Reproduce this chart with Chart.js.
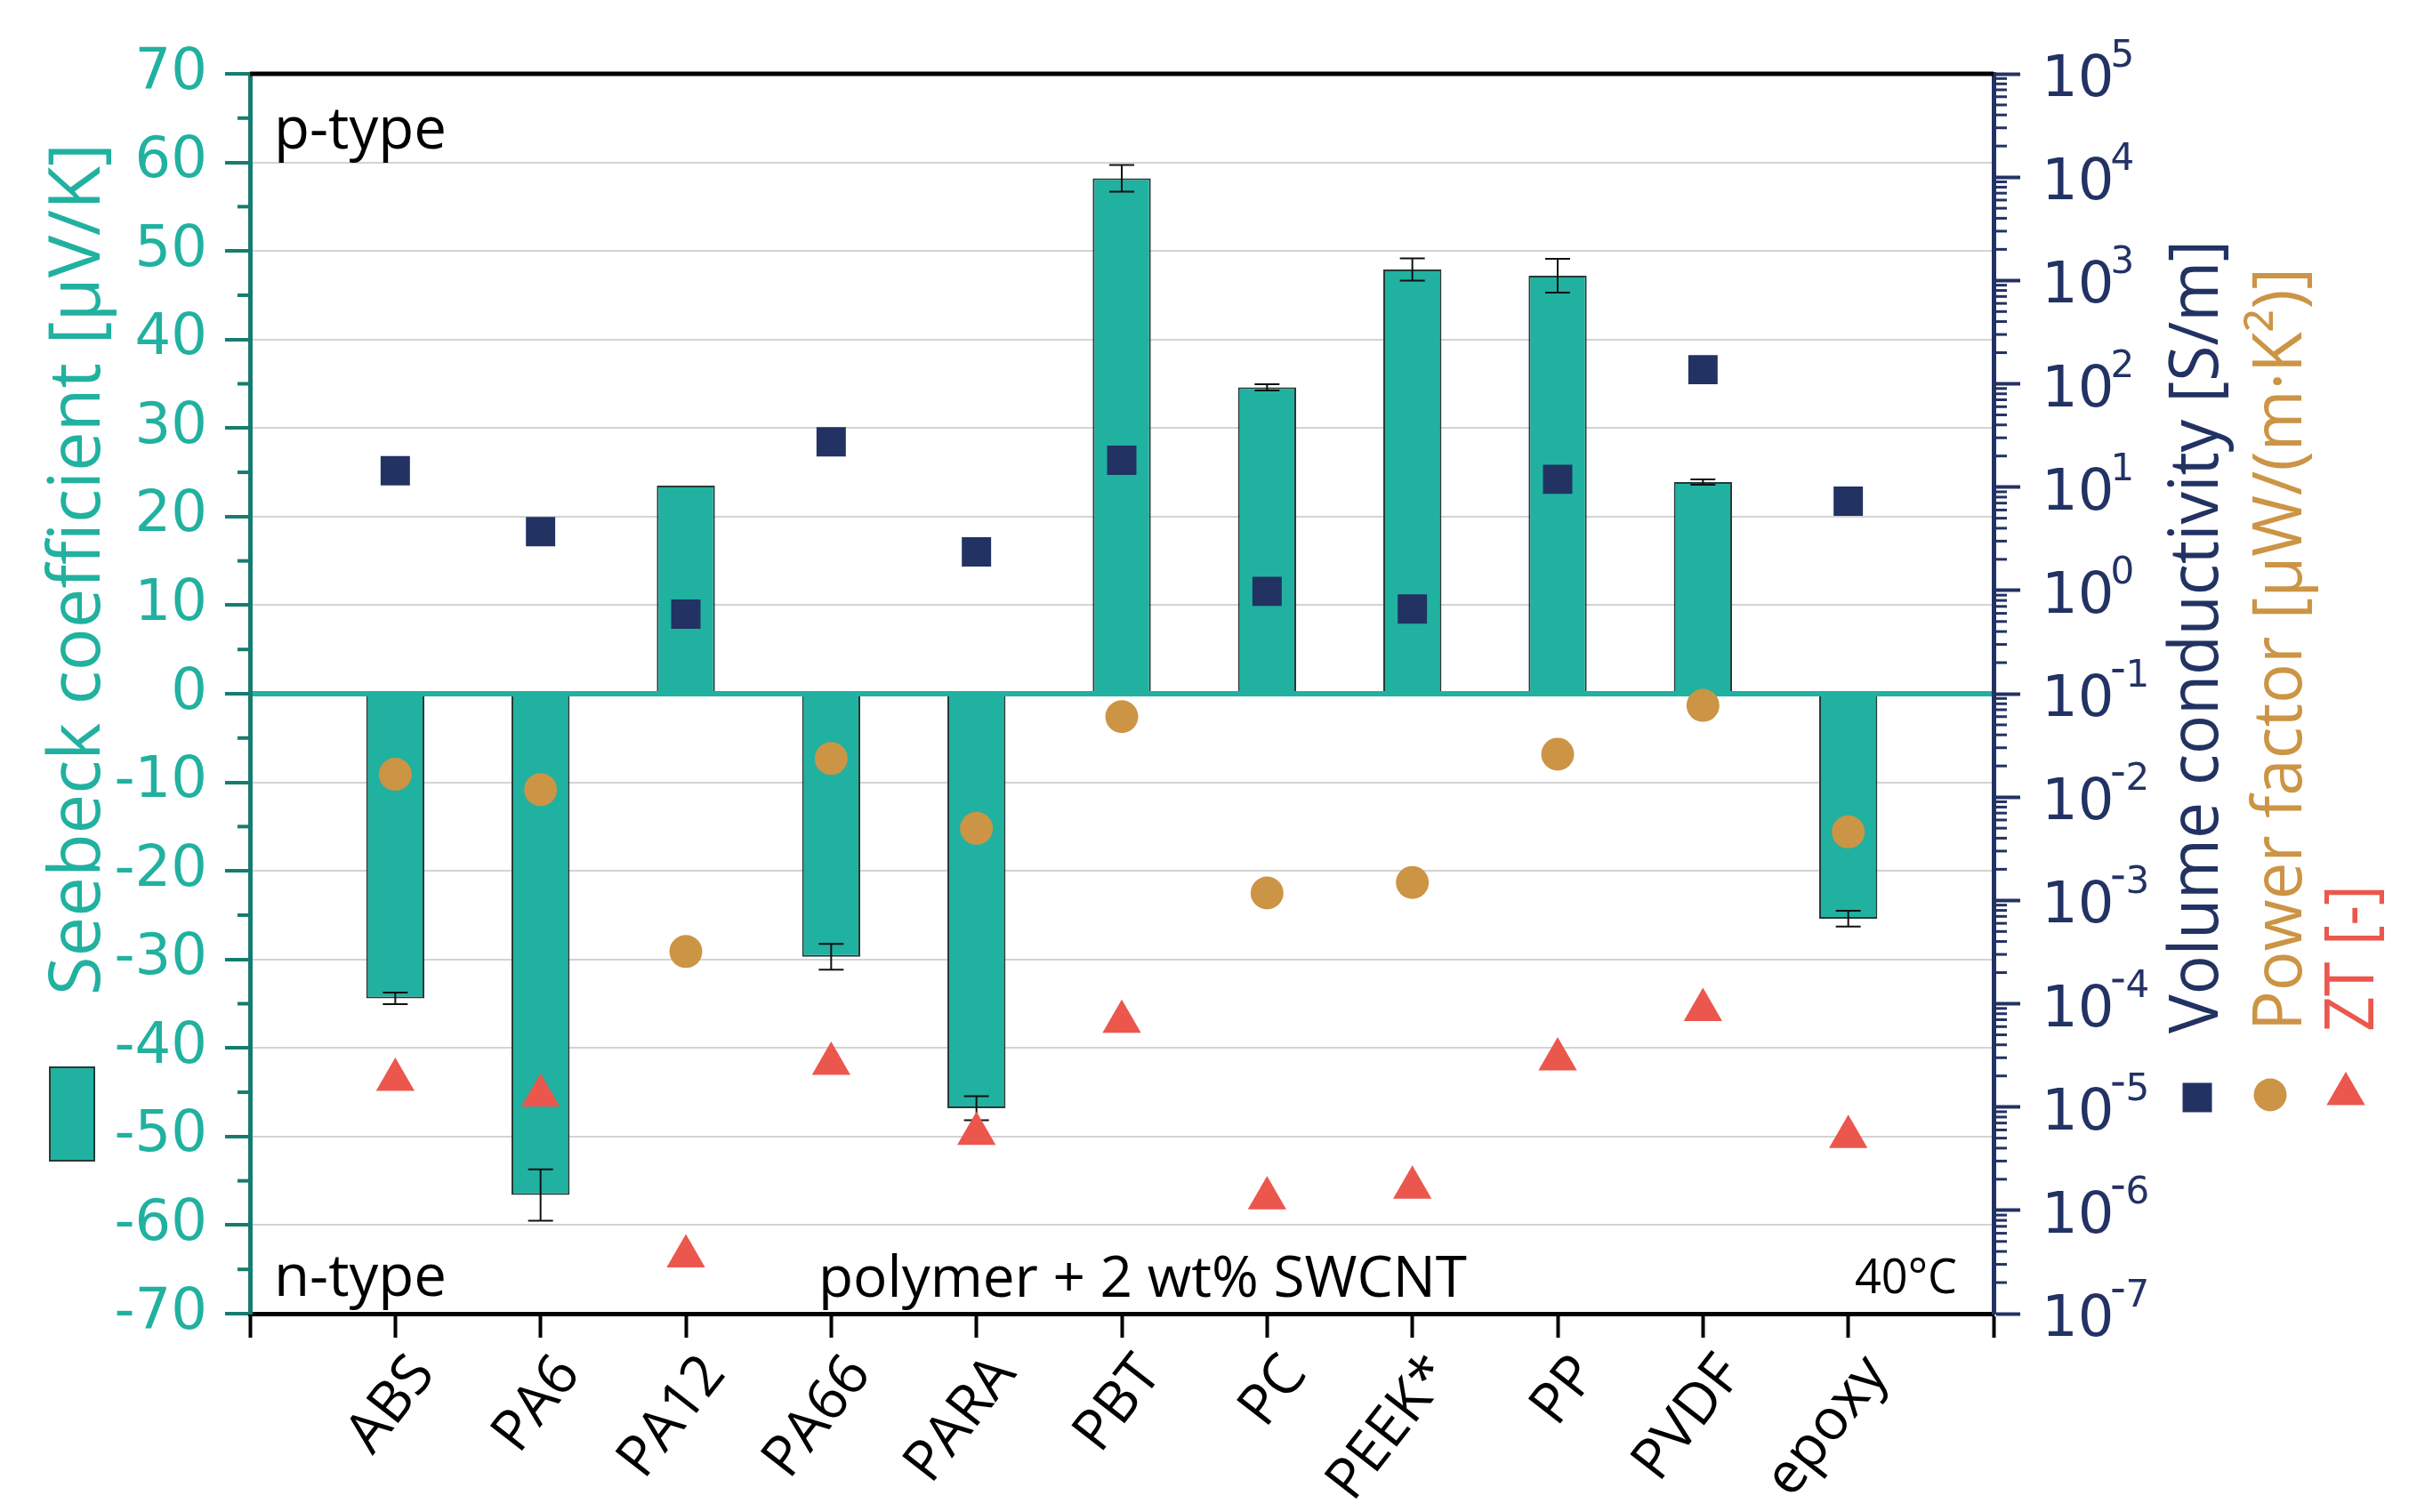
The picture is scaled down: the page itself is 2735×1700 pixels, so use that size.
<!DOCTYPE html>
<html>
<head>
<meta charset="utf-8">
<title>Seebeck coefficient, conductivity, power factor and ZT</title>
<script src="https://cdn.jsdelivr.net/npm/chart.js@4.4.1/dist/chart.umd.min.js"></script>
<style>
  html, body { margin: 0; padding: 0; background: #fff; }
  #wrap { width: 2735px; height: 1700px; }
</style>
</head>
<body>
<div id="wrap"><canvas id="seebeckChart" width="2735" height="1700"></canvas></div>
<script>
// data (polymer + 2 wt% SWCNT, 40 °C)
var categories = ['ABS', 'PA6', 'PA12', 'PA66', 'PARA', 'PBT', 'PC', 'PEEK*', 'PP', 'PVDF', 'epoxy'];
var seebeck = [-34.4, -56.6, 23.5, -29.7, -46.8, 58.2, 34.6, 47.9, 47.2, 23.9, -25.4];      // µV/K
var seebeckErr = [0.65, 2.9, 0, 1.45, 1.35, 1.5, 0.35, 1.25, 1.9, 0.3, 0.9];
var conductivity = [14.4, 3.7, 0.59, 27.4, 2.36, 18.2, 0.98, 0.66, 11.9, 137, 7.3];          // S/m
var powerFactor = [0.0166, 0.0118, 3.2e-4, 0.0236, 4.98e-3, 0.060, 1.18e-3, 1.49e-3, 0.026, 0.0772, 4.6e-3]; // µW/(m·K²)
var zt = [1.84e-5, 1.29e-5, 3.6e-7, 2.63e-5, 5.5e-6, 6.7e-5, 1.31e-6, 1.66e-6, 2.9e-5, 8.7e-5, 5.15e-6];

var seebeckTicks = [-70, -60, -50, -40, -30, -20, -10, 0, 10, 20, 30, 40, 50, 60, 70];
var seebeckMinorTicks = [-65, -55, -45, -35, -25, -15, -5, 5, 15, 25, 35, 45, 55, 65];
var decadeExps = [-7, -6, -5, -4, -3, -2, -1, 0, 1, 2, 3, 4, 5];

var TEAL = '#21b1a0';
var TEAL_DARK = '#167c6f';
var NAVY = '#223263';
var ORANGE = '#cc9445';
var RED = '#eb574d';

// empty slots at both ends so the categories sit at 1..11 of 12 intervals
var xLabels = [''].concat(categories, ['']);
function pad(arr) { return [null].concat(arr, [null]); }

function fitText(ctx, text, x, y, rot, font, color, len) {
    ctx.save();
    ctx.translate(x, y);
    ctx.rotate(rot);
    ctx.font = font;
    var w = ctx.measureText(text).width;
    ctx.scale(len / w, 1);
    ctx.fillStyle = color;
    ctx.textAlign = 'left';
    ctx.textBaseline = 'alphabetic';
    ctx.fillText(text, 0, 0);
    ctx.restore();
}

var extras = {
    id: 'extras',
    afterDatasetDraw: function (chart, args) {
        if (args.index !== 0) return;
        var ctx = chart.ctx;
        var y = chart.scales.y;
        var meta = chart.getDatasetMeta(0);
        ctx.save();
        ctx.strokeStyle = '#111';
        ctx.lineWidth = 2;
        seebeckErr.forEach(function (e, i) {
            if (!e) return;
            var bar = meta.data[i + 1];
            var x = bar.x;
            var y1 = y.getPixelForValue(seebeck[i] + e);
            var y2 = y.getPixelForValue(seebeck[i] - e);
            ctx.beginPath();
            ctx.moveTo(x, y1); ctx.lineTo(x, y2);
            ctx.moveTo(x - 14, y1); ctx.lineTo(x + 14, y1);
            ctx.moveTo(x - 14, y2); ctx.lineTo(x + 14, y2);
            ctx.stroke();
        });
        ctx.restore();
    },
    afterDraw: function (chart) {
        var ctx = chart.ctx;
        var a = chart.chartArea;
        var y = chart.scales.y;
        var y2 = chart.scales.y2;
        ctx.save();

        // top frame line
        ctx.fillStyle = '#000';
        ctx.fillRect(a.left, a.top - 2.5, a.right - a.left, 5);

        // minor ticks on the left axis
        ctx.fillStyle = TEAL_DARK;
        seebeckMinorTicks.forEach(function (v) {
            var py = y.getPixelForValue(v);
            ctx.fillRect(a.left - 14, py - 2, 14, 4);
        });

        // minor ticks on the log axis
        ctx.fillStyle = NAVY;
        decadeExps.slice(0, -1).forEach(function (e) {
            for (var m = 2; m <= 9; m++) {
                var py = y2.getPixelForValue(m * Number('1e' + e));
                ctx.fillRect(a.right, py - 1.5, 15, 3);
            }
        });

        // log axis labels as 10 with a raised exponent
        ctx.fillStyle = NAVY;
        ctx.textAlign = 'left';
        decadeExps.forEach(function (e) {
            var py = y2.getPixelForValue(Number('1e' + e));
            var x0 = a.right + 54;
            ctx.font = '64px "DejaVu Sans"';
            ctx.textBaseline = 'alphabetic';
            ctx.fillText('10', x0, py + 25);
            var w = ctx.measureText('10').width;
            ctx.font = '42px "DejaVu Sans"';
            var ex = x0 + w - 4;
            if (e < 0) {
                ctx.fillRect(ex + 2, py - 28, 13, 4);
                ex += 17;
            }
            ctx.fillText(String(Math.abs(e)), ex, py - 8);
        });

        // axis titles
        fitText(ctx, 'Seebeck coefficient [\u03BCV/K]', 112, 1119, -Math.PI / 2, '80px "Open Sans"', TEAL, 958);
        fitText(ctx, 'Volume conductivity [S/m]', 2493, 1162, -Math.PI / 2, '76px "Open Sans"', NAVY, 892);
        fitText(ctx, 'Power factor [\u03BCW/(m\u00B7K\u00B2)]', 2587, 1159, -Math.PI / 2, '76px "Open Sans"', ORANGE, 858);
        fitText(ctx, 'ZT [-]', 2668, 1160, -Math.PI / 2, '76px "Open Sans"', RED, 165);

        // annotations inside the plot
        fitText(ctx, 'p-type', 308, 167, 0, '66px "Open Sans"', '#000', 194);
        fitText(ctx, 'n-type', 308, 1457, 0, '66px "Open Sans"', '#000', 194);
        fitText(ctx, 'polymer + 2 wt% SWCNT', 920, 1458, 0, '64px "Open Sans"', '#000', 729);
        fitText(ctx, '40\u00B0C', 2085, 1454, 0, '54px "Open Sans"', '#000', 115);

        // legend symbols
        ctx.fillStyle = TEAL;
        ctx.fillRect(56, 1200, 50, 105);
        ctx.strokeStyle = '#263b38';
        ctx.lineWidth = 2;
        ctx.strokeRect(56, 1200, 50, 105);

        ctx.fillStyle = NAVY;
        ctx.fillRect(2470 - 16.5, 1234 - 16.5, 33, 33);

        ctx.fillStyle = ORANGE;
        ctx.beginPath();
        ctx.arc(2552, 1231, 18.5, 0, Math.PI * 2);
        ctx.fill();

        ctx.fillStyle = RED;
        ctx.beginPath();
        ctx.moveTo(2637, 1205);
        ctx.lineTo(2637 + 21.7, 1242.5);
        ctx.lineTo(2637 - 21.7, 1242.5);
        ctx.closePath();
        ctx.fill();

        ctx.restore();
    }
};

var ctx = document.getElementById('seebeckChart').getContext('2d');
var chart = new Chart(ctx, {
    type: 'bar',
    data: {
        labels: xLabels,
        datasets: [{
            label: 'Seebeck coefficient',
            data: pad(seebeck),
            backgroundColor: TEAL,
            borderColor: '#263b38',
            borderWidth: 2,
            barPercentage: 0.4,
            categoryPercentage: 1,
            yAxisID: 'y',
            order: 4
        }, {
            type: 'line',
            label: 'Volume conductivity',
            data: pad(conductivity),
            showLine: false,
            pointStyle: 'rect',
            pointRadius: 23.3,
            pointBorderWidth: 0,
            backgroundColor: NAVY,
            borderColor: NAVY,
            yAxisID: 'y2',
            order: 3
        }, {
            type: 'line',
            label: 'Power factor',
            data: pad(powerFactor),
            showLine: false,
            pointStyle: 'circle',
            pointRadius: 18.5,
            pointBorderWidth: 0,
            backgroundColor: ORANGE,
            borderColor: ORANGE,
            yAxisID: 'y2',
            order: 2
        }, {
            type: 'line',
            label: 'ZT',
            data: pad(zt),
            showLine: false,
            pointStyle: 'triangle',
            pointRadius: 25,
            pointBorderWidth: 0,
            backgroundColor: RED,
            borderColor: RED,
            yAxisID: 'y2',
            order: 1
        }]
    },
    options: {
        responsive: false,
        animation: false,
        devicePixelRatio: 1,
        layout: { padding: { top: 83, left: 0, right: 0, bottom: 0 } },
        plugins: {
            legend: { display: false },
            tooltip: { enabled: false }
        },
        scales: {
            x: {
                grid: {
                    display: true,
                    drawOnChartArea: false,
                    drawTicks: true,
                    tickLength: 27,
                    tickWidth: 4,
                    tickColor: '#000',
                    offset: false
                },
                offset: false,
                border: { color: '#000', width: 5 },
                ticks: {
                    autoSkip: false,
                    minRotation: 52,
                    maxRotation: 52,
                    padding: 6,
                    labelOffset: 32,
                    color: '#000',
                    font: { family: 'Open Sans', size: 64 }
                },
                afterFit: function (scale) { scale.height = 223; }
            },
            y: {
                position: 'left',
                min: -70,
                max: 70,
                afterBuildTicks: function (scale) {
                    scale.ticks = seebeckTicks.map(function (v) { return { value: v }; });
                },
                ticks: {
                    color: TEAL,
                    padding: 20,
                    font: { family: 'DejaVu Sans', size: 64 }
                },
                grid: {
                    color: function (c) {
                        var v = c.tick ? c.tick.value : null;
                        if (v === 0) return TEAL;
                        if (v === 70 || v === -70) return 'rgba(0,0,0,0)';
                        return '#d3d3d3';
                    },
                    lineWidth: function (c) { return c.tick && c.tick.value === 0 ? 6 : 2; },
                    tickColor: TEAL_DARK,
                    tickLength: 28,
                    tickWidth: 4
                },
                border: { color: TEAL_DARK, width: 5 },
                afterFit: function (scale) { scale.width = 281; }
            },
            y2: {
                type: 'logarithmic',
                position: 'right',
                min: 1e-7,
                max: 1e5,
                afterBuildTicks: function (scale) {
                    scale.ticks = decadeExps.map(function (e) { return { value: Number('1e' + e) }; });
                },
                ticks: { display: false },
                grid: {
                    drawOnChartArea: false,
                    tickColor: NAVY,
                    tickLength: 30,
                    tickWidth: 4
                },
                border: { color: NAVY, width: 5 },
                afterFit: function (scale) { scale.width = 494; }
            }
        }
    },
    plugins: [extras]
});
</script>
</body>
</html>
